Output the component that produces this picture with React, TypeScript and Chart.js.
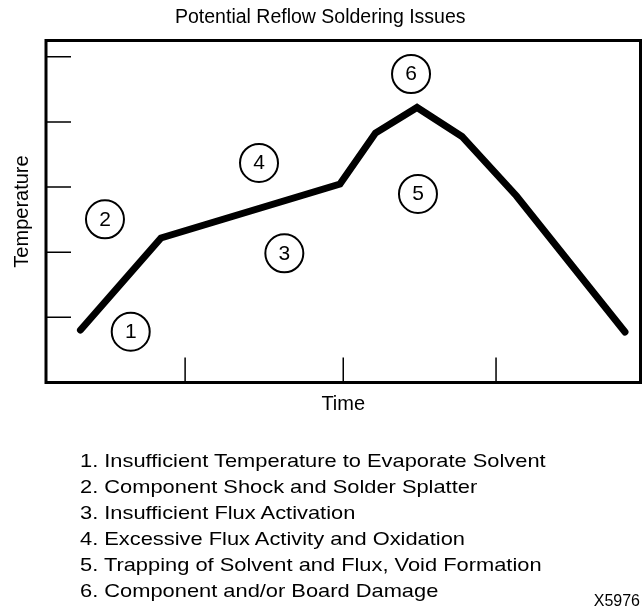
import React, { useEffect, useRef } from "react";
import { Chart, registerables } from "chart.js";

Chart.register(...registerables);

// ---- data ----
const chartTitle = "Potential Reflow Soldering Issues";
const xAxisTitle = "Time";
const yAxisTitle = "Temperature";
const figureId = "X5976";

// reflow profile (time units 0..100, temperature units 0..5.25)
const timeValues = [5.8, 19.34, 49.45, 55.42, 62.41, 69.97, 79.14, 97.39];
const tempValues = [0.806, 2.218, 3.047, 3.83, 4.222, 3.777, 2.863, 0.775];

// circled issue markers
const issueNumbers = ["1", "2", "3", "4", "5", "6"];
const issueTime = [14.25, 9.92, 40.09, 35.83, 62.57, 61.4];
const issueTemp = [0.78, 2.505, 1.983, 3.371, 2.894, 4.736];

// inward tick marks
const xTickValues = [23.4, 50.0, 75.7];
const yTickValues = [1, 2, 3, 4, 5];

const issueLabels = [
  "1. Insufficient Temperature to Evaporate Solvent",
  "2. Component Shock and Solder Splatter",
  "3. Insufficient Flux Activation",
  "4. Excessive Flux Activity and Oxidation",
  "5. Trapping of Solvent and Flux, Void Formation",
  "6. Component and/or Board Damage",
];

const FONT = "'Liberation Sans', Arial, Helvetica, sans-serif";

const framePlugin = {
  id: "frame",
  beforeDatasetsDraw(chart: any) {
    const { ctx, chartArea: a, scales } = chart;
    ctx.save();
    ctx.strokeStyle = "#000";
    ctx.lineWidth = 1.5;
    ctx.beginPath();
    for (const v of yTickValues) {
      const y = scales.y.getPixelForValue(v);
      ctx.moveTo(a.left, y);
      ctx.lineTo(a.left + 25, y);
    }
    for (const v of xTickValues) {
      const x = scales.x.getPixelForValue(v);
      ctx.moveTo(x, a.bottom);
      ctx.lineTo(x, a.bottom - 25);
    }
    ctx.stroke();
    ctx.lineWidth = 3;
    ctx.strokeRect(a.left, a.top, a.right - a.left, a.bottom - a.top);
    ctx.restore();
  },
  afterDatasetsDraw(chart: any) {
    const { ctx } = chart;
    const meta = chart.getDatasetMeta(1);
    ctx.save();
    ctx.fillStyle = "#000";
    ctx.font = `21px ${FONT}`;
    ctx.textAlign = "center";
    ctx.textBaseline = "middle";
    meta.data.forEach((pt: any, i: number) => {
      ctx.fillText(issueNumbers[i], pt.x, pt.y + 0.5);
    });
    ctx.restore();
  },
};

export default function App() {
  const canvasRef = useRef<HTMLCanvasElement | null>(null);

  useEffect(() => {
    if (!canvasRef.current) return;
    Chart.defaults.font.family = FONT;
    Chart.defaults.color = "#000";
    const chart = new Chart(canvasRef.current, {
      type: "scatter",
      data: {
        datasets: [
          {
            data: timeValues.map((t, i) => ({ x: t, y: tempValues[i] })),
            showLine: true,
            borderColor: "#000",
            borderWidth: 7,
            borderCapStyle: "round",
            borderJoinStyle: "miter",
            pointRadius: 0,
            tension: 0,
            fill: false,
          } as any,
          {
            data: issueTime.map((t, i) => ({ x: t, y: issueTemp[i] })),
            showLine: false,
            pointRadius: 19,
            pointBackgroundColor: "#fff",
            pointBorderColor: "#000",
            pointBorderWidth: 2,
          } as any,
        ],
      },
      options: {
        responsive: false,
        animation: false,
        devicePixelRatio: 1,
        events: [],
        layout: { autoPadding: false, padding: { left: 0, right: 1.5, top: 0, bottom: 186.5 } },
        plugins: {
          legend: { display: false },
          tooltip: { enabled: false },
          title: {
            display: true,
            text: chartTitle,
            color: "#000",
            font: { size: 19.5, weight: "normal", family: FONT },
            padding: { top: 6, bottom: 11.1 },
          },
        },
        scales: {
          x: {
            type: "linear",
            min: 0,
            max: 100,
            ticks: { display: false },
            grid: { display: false },
            border: { display: false },
            title: {
              display: true,
              text: xAxisTitle,
              color: "#000",
              font: { size: 20, family: FONT },
              padding: { top: 0, bottom: 6.5 },
            },
            afterFit: (s: any) => {
              s.height = 40;
            },
          },
          y: {
            type: "linear",
            min: 0,
            max: 5.25,
            ticks: { display: false },
            grid: { display: false },
            border: { display: false },
            title: {
              display: true,
              text: yAxisTitle,
              color: "#000",
              font: { size: 20, family: FONT },
              padding: { top: 10, bottom: 0 },
            },
            afterFit: (s: any) => {
              s.width = 46;
            },
          },
        },
      } as any,
      plugins: [framePlugin],
    });
    return () => chart.destroy();
  }, []);

  return (
    <div
      style={{
        position: "absolute",
        left: 0,
        top: 0,
        width: 642,
        height: 609,
        background: "#fff",
        overflow: "hidden",
      }}
    >
      <canvas ref={canvasRef} width={642} height={609} style={{ display: "block" }} />
      {issueLabels.map((t, i) => (
        <div
          key={i}
          style={{
            position: "absolute",
            left: 80,
            top: 448.1 + i * 26,
            fontFamily: FONT,
            fontSize: 19,
            lineHeight: "26px",
            whiteSpace: "nowrap",
            color: "#000",
            transform: "scaleX(1.15)",
            transformOrigin: "0 0",
          }}
        >
          {t}
        </div>
      ))}
      <div
        style={{
          position: "absolute",
          right: 2,
          top: 591,
          fontFamily: FONT,
          fontSize: 16,
          lineHeight: "20px",
          whiteSpace: "nowrap",
          color: "#000",
        }}
      >
        {figureId}
      </div>
    </div>
  );
}
